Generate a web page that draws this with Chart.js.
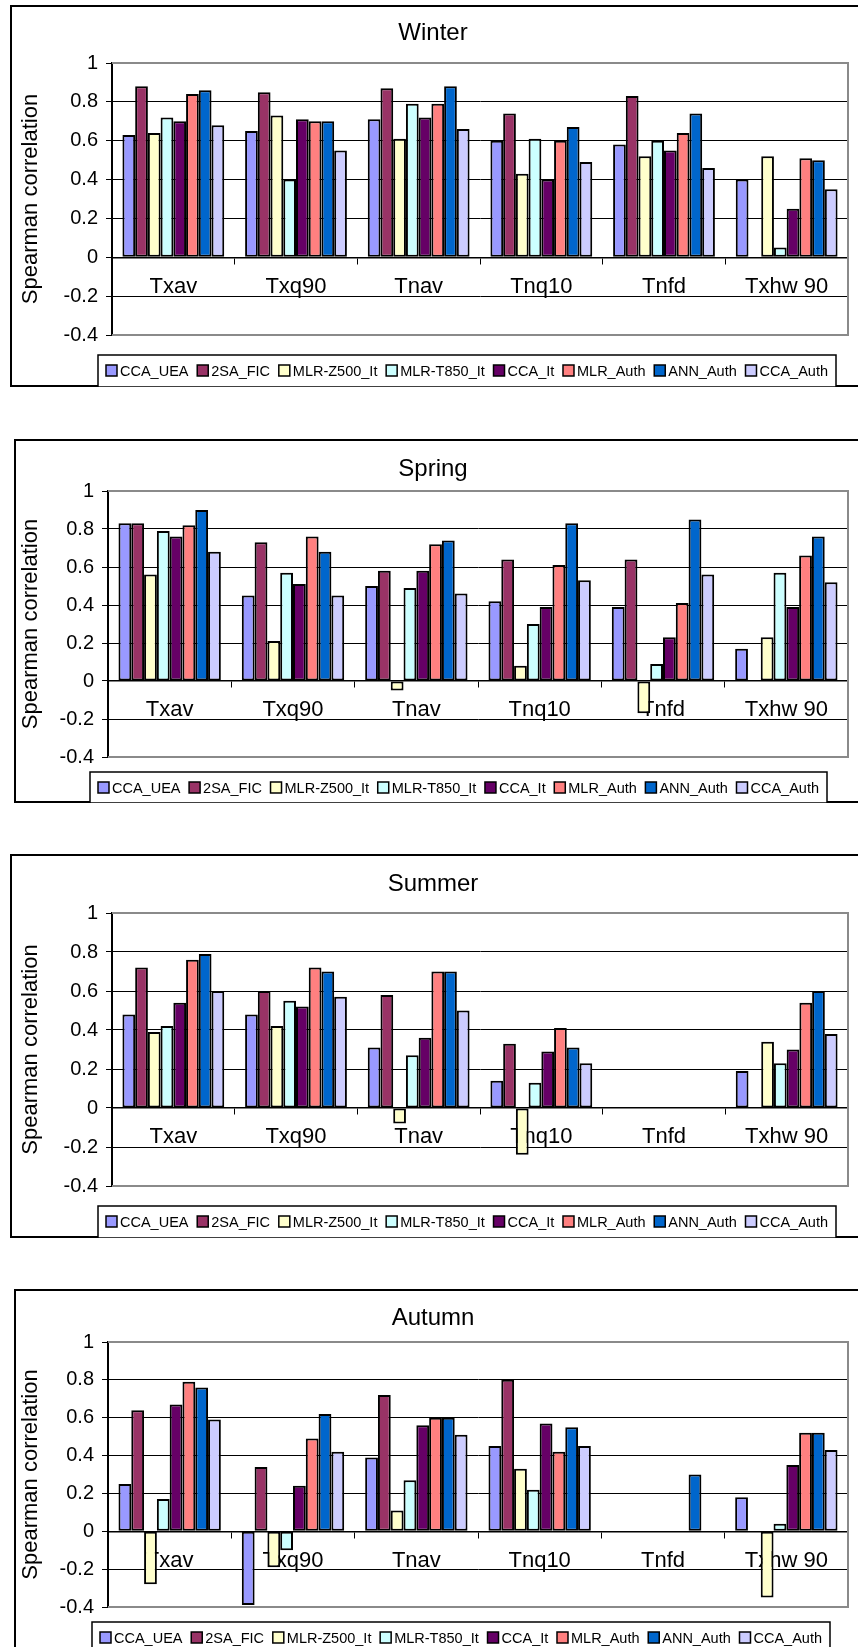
<!DOCTYPE html>
<html>
<head>
<meta charset="utf-8">
<script src="https://cdn.jsdelivr.net/npm/chart.js@4.4.1/dist/chart.umd.min.js"></script>
<style>
  html, body { margin: 0; padding: 0; background: #fff; overflow: hidden; }
  body { width: 858px; height: 1647px; position: relative; }
  .frame { position: absolute; border: 2px solid #000; border-right: none; width: 900px; box-sizing: border-box; }
  canvas { position: absolute; left: 18px; }
</style>
</head>
<body>
<script>
const categories = ['Txav', 'Txq90', 'Tnav', 'Tnq10', 'Tnfd', 'Txhw 90'];
const methods = ['CCA_UEA', '2SA_FIC', 'MLR-Z500_It', 'MLR-T850_It', 'CCA_It', 'MLR_Auth', 'ANN_Auth', 'CCA_Auth'];
const methodColors = ['#9999FF', '#993366', '#FFFFCC', '#CCFFFF', '#660066', '#FF8080', '#0066CC', '#CCCCFF'];
const yTicks = [-0.4, -0.2, 0, 0.2, 0.4, 0.6, 0.8, 1];

// one row per method, one column per index
const winterValues = [
  [0.63, 0.65, 0.71, 0.60, 0.58, 0.40],
  [0.88, 0.85, 0.87, 0.74, 0.83, null],
  [0.64, 0.73, 0.61, 0.43, 0.52, 0.52],
  [0.72, 0.40, 0.79, 0.61, 0.60, 0.05],
  [0.70, 0.71, 0.72, 0.40, 0.55, 0.25],
  [0.84, 0.70, 0.79, 0.60, 0.64, 0.51],
  [0.86, 0.70, 0.88, 0.67, 0.74, 0.50],
  [0.68, 0.55, 0.66, 0.49, 0.46, 0.35]
];
const springValues = [
  [0.83, 0.45, 0.50, 0.42, 0.39, 0.17],
  [0.83, 0.73, 0.58, 0.64, 0.64, null],
  [0.56, 0.21, -0.05, 0.08, -0.17, 0.23],
  [0.79, 0.57, 0.49, 0.30, 0.09, 0.57],
  [0.76, 0.51, 0.58, 0.39, 0.23, 0.39],
  [0.82, 0.76, 0.72, 0.61, 0.41, 0.66],
  [0.90, 0.68, 0.74, 0.83, 0.85, 0.76],
  [0.68, 0.45, 0.46, 0.53, 0.56, 0.52]
];
const summerValues = [
  [0.48, 0.48, 0.31, 0.14, null, 0.19],
  [0.72, 0.60, 0.58, 0.33, null, null],
  [0.39, 0.42, -0.08, -0.24, null, 0.34],
  [0.42, 0.55, 0.27, 0.13, null, 0.23],
  [0.54, 0.52, 0.36, 0.29, null, 0.30],
  [0.76, 0.72, 0.70, 0.41, null, 0.54],
  [0.79, 0.70, 0.70, 0.31, null, 0.60],
  [0.60, 0.57, 0.50, 0.23, null, 0.38]
];
const autumnValues = [
  [0.25, -0.39, 0.39, 0.45, null, 0.18],
  [0.64, 0.34, 0.72, 0.80, null, null],
  [-0.28, -0.19, 0.11, 0.33, null, -0.35],
  [0.17, -0.10, 0.27, 0.22, null, 0.04],
  [0.67, 0.24, 0.56, 0.57, null, 0.35],
  [0.79, 0.49, 0.60, 0.42, null, 0.52],
  [0.76, 0.62, 0.60, 0.55, 0.30, 0.52],
  [0.59, 0.42, 0.51, 0.45, null, 0.43]
];

const FONT = '"Liberation Sans", Arial, sans-serif';
const CANVAS_LEFT = 18;
const PLOT_RIGHT = 848;

// page positions of each season panel
const panels = [
  { title: 'Winter', values: winterValues, top: 5, bottom: 387, frameLeft: 10, plotLeft: 112, plotTop: 63, plotBottom: 335, titleY: 33,
    legend: { left: 98, right: 836, top: 355, bottom: 387 } },
  { title: 'Spring', values: springValues, top: 439, bottom: 803, frameLeft: 14, plotLeft: 108, plotTop: 491, plotBottom: 757, titleY: 469,
    legend: { left: 90, right: 827, top: 772, bottom: 803 } },
  { title: 'Summer', values: summerValues, top: 854, bottom: 1238, frameLeft: 10, plotLeft: 112, plotTop: 913, plotBottom: 1186, titleY: 884,
    legend: { left: 98, right: 836, top: 1206, bottom: 1238 } },
  { title: 'Autumn', values: autumnValues, top: 1289, bottom: 1660, frameLeft: 14, plotLeft: 108, plotTop: 1342, plotBottom: 1607, titleY: 1318,
    legend: { left: 92, right: 830, top: 1622, bottom: 1660 } }
];

// gray plot-area border on top, right and bottom
const plotFrame = {
  id: 'plotFrame',
  beforeDatasetsDraw(chart) {
    const { ctx, chartArea: a } = chart;
    ctx.save();
    ctx.strokeStyle = '#8a8a8a';
    ctx.lineWidth = 2;
    ctx.beginPath();
    ctx.moveTo(a.left, a.top);
    ctx.lineTo(a.right, a.top);
    ctx.lineTo(a.right, a.bottom);
    ctx.lineTo(a.left, a.bottom);
    ctx.stroke();
    ctx.restore();
  }
};

// boxed one-row legend under the plot
const boxLegend = {
  id: 'boxLegend',
  afterDraw(chart, args, opts) {
    const { ctx } = chart;
    const b = opts.box;
    ctx.save();
    ctx.fillStyle = '#fff';
    ctx.fillRect(b.left, b.top, b.right - b.left, b.bottom - b.top);
    ctx.strokeStyle = '#000';
    ctx.lineWidth = 1.5;
    ctx.strokeRect(b.left, b.top, b.right - b.left, b.bottom - b.top);

    ctx.font = '14.5px ' + FONT;
    ctx.textBaseline = 'middle';
    const sq = 11, textGap = 3, margin = 8;
    const items = chart.data.datasets.map(ds => ({ label: ds.label, color: ds.backgroundColor, w: ctx.measureText(ds.label).width }));
    const used = items.reduce((s, it) => s + sq + textGap + it.w, 0);
    const gap = (b.right - b.left - 2 * margin - used) / (items.length - 1);
    const cy = b.top + 15.5;
    let x = b.left + margin;
    items.forEach(it => {
      ctx.fillStyle = it.color;
      ctx.fillRect(x, cy - sq / 2, sq, sq);
      ctx.lineWidth = 1.5;
      ctx.strokeStyle = '#000';
      ctx.strokeRect(x, cy - sq / 2, sq, sq);
      ctx.fillStyle = '#000';
      ctx.fillText(it.label, x + sq + textGap, cy + 1);
      x += sq + textGap + it.w + gap;
    });
    ctx.restore();
  }
};

panels.forEach(p => {
  const frame = document.createElement('div');
  frame.className = 'frame';
  frame.style.left = p.frameLeft + 'px';
  frame.style.top = p.top + 'px';
  frame.style.height = (p.bottom - p.top) + 'px';
  document.body.appendChild(frame);

  const h = p.bottom - p.top;
  const canvas = document.createElement('canvas');
  canvas.width = 858 - CANVAS_LEFT;
  canvas.height = h;
  canvas.style.top = p.top + 'px';
  document.body.appendChild(canvas);

  const titleTop = (p.titleY - p.top) - 12;
  const titleBottom = (p.plotTop - p.top) - titleTop - 24;

  new Chart(canvas, {
    type: 'bar',
    data: {
      labels: categories,
      datasets: methods.map((m, i) => ({
        label: m,
        data: p.values[i],
        backgroundColor: methodColors[i],
        borderColor: '#000',
        borderWidth: 2,
        borderSkipped: false,
        categoryPercentage: 0.83,
        barPercentage: 1
      }))
    },
    options: {
      responsive: false,
      devicePixelRatio: 1,
      animation: false,
      layout: {
        padding: { left: 0, top: 0, right: 858 - PLOT_RIGHT, bottom: h - (p.plotBottom - p.top) }
      },
      plugins: {
        legend: { display: false },
        tooltip: { enabled: false },
        title: {
          display: true,
          text: p.title,
          color: '#000',
          font: { family: FONT, size: 24, weight: 'normal', lineHeight: 1 },
          padding: { top: titleTop, bottom: titleBottom }
        },
        boxLegend: {
          box: {
            left: p.legend.left - CANVAS_LEFT,
            right: p.legend.right - CANVAS_LEFT,
            top: p.legend.top - p.top,
            bottom: p.legend.bottom - p.top
          }
        }
      },
      scales: {
        x: {
          position: { y: 0 },
          grid: { drawOnChartArea: false, tickLength: 6, tickColor: '#000', tickWidth: 1 },
          border: { color: '#000', width: 1.5 },
          ticks: { color: '#000', padding: 10, maxRotation: 0, autoSkip: false, font: { family: FONT, size: 22 } }
        },
        y: {
          min: yTicks[0],
          max: yTicks[yTicks.length - 1],
          afterBuildTicks(scale) { scale.ticks = yTicks.map(v => ({ value: v })); },
          afterFit(scale) { scale.width = p.plotLeft - CANVAS_LEFT; },
          ticks: {
            color: '#000',
            padding: 8,
            font: { family: FONT, size: 20 },
            callback: v => String(Math.round(v * 10) / 10)
          },
          grid: { color: '#000', lineWidth: 1, tickLength: 6, tickColor: '#000' },
          border: { color: '#000', width: 2 },
          title: {
            display: true,
            text: 'Spearman correlation',
            color: '#000',
            font: { family: FONT, size: 22, lineHeight: 1 },
            padding: { top: 31 - CANVAS_LEFT - 11, bottom: 0 }
          }
        }
      }
    },
    plugins: [plotFrame, boxLegend]
  });
});
</script>
</body>
</html>
